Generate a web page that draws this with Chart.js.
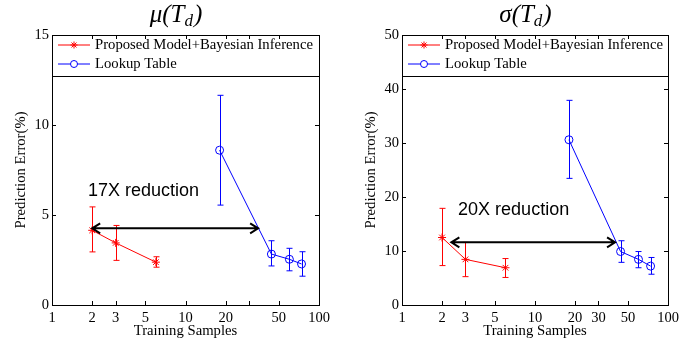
<!DOCTYPE html>
<html>
<head>
<meta charset="utf-8">
<script src="https://cdn.jsdelivr.net/npm/chart.js@4/dist/chart.umd.min.js"></script>
<style>
  body { margin: 0; background: #fff; }
  #wrap { position: relative; width: 699px; height: 345px; }
  .box { position: absolute; top: 0; height: 345px; }
</style>
</head>
<body>
<div id="wrap">
  <div class="box" style="left:0;width:350px"><canvas id="muChart" width="350" height="345"></canvas></div>
  <div class="box" style="left:350px;width:349px"><canvas id="sigmaChart" width="349" height="345"></canvas></div>
</div>
<script>
// x values (training samples)
var proposedSamples = [2, 3, 6];
var lookupSamples = [18, 44, 60, 74];
var xTicks = [1, 2, 3, 5, 10, 20, 30, 50, 100];

// mu(Td) prediction error (%)
var muProposed = [4.15, 3.45, 2.38];
var muProposedLow = [2.95, 2.48, 2.1];
var muProposedHigh = [5.45, 4.42, 2.68];
var muLookup = [8.6, 2.83, 2.54, 2.28];
var muLookupLow = [5.55, 2.17, 1.9, 1.6];
var muLookupHigh = [11.65, 3.57, 3.15, 2.96];
var muArrow = [[2, 4.26], [35, 4.26]];
var muNote = { text: '17X reduction', x: 1.86, y: 6.35 };

// sigma(Td) prediction error (%)
var sigmaProposed = [12.5, 8.45, 6.9];
var sigmaProposedLow = [7.3, 5.25, 5.1];
var sigmaProposedHigh = [17.9, 11.6, 8.6];
var sigmaLookup = [30.6, 9.9, 8.45, 7.2];
var sigmaLookupLow = [23.45, 7.9, 6.9, 5.7];
var sigmaLookupHigh = [37.9, 11.9, 9.9, 8.8];
var sigmaArrow = [[2.35, 11.6], [40, 11.6]];
var sigmaNote = { text: '20X reduction', x: 2.64, y: 17.5 };

var legendLabels = ['Proposed Model+Bayesian Inference', 'Lookup Table'];

Chart.defaults.color = '#000';
Chart.defaults.font.family = '"Liberation Serif", "Times New Roman", serif';

function toPoints(xs, ys) {
	var pts = [];
	for (var i in xs) pts.push({ x: xs[i], y: ys[i] });
	return pts;
}

function drawStar(ctx, x, y, r) {
	ctx.beginPath();
	for (var k = 0; k < 4; k++) {
		var a = k * Math.PI / 4;
		ctx.moveTo(x - r * Math.cos(a), y - r * Math.sin(a));
		ctx.lineTo(x + r * Math.cos(a), y + r * Math.sin(a));
	}
	ctx.stroke();
}

// error bars, frame with inward ticks, arrow, note, legend and title
var decorPlugin = {
	id: 'decor',
	afterDatasetsDraw: function(chart) {
		var ctx = chart.ctx;
		var xs = chart.scales.x, ys = chart.scales.y;
		var a = chart.chartArea;
		var opts = chart.options.plugins.decor;

		// error bars
		chart.data.datasets.forEach(function(ds) {
			ctx.save();
			ctx.strokeStyle = ds.borderColor;
			ctx.lineWidth = 1;
			ds.data.forEach(function(p, i) {
				var px = Math.round(xs.getPixelForValue(p.x)) + 0.5;
				var lo = ys.getPixelForValue(ds.errLow[i]);
				var hi = ys.getPixelForValue(ds.errHigh[i]);
				ctx.beginPath();
				ctx.moveTo(px, lo); ctx.lineTo(px, hi);
				ctx.moveTo(px - 3, lo); ctx.lineTo(px + 3, lo);
				ctx.moveTo(px - 3, hi); ctx.lineTo(px + 3, hi);
				ctx.stroke();
			});
			ctx.restore();
		});

		// arrow
		ctx.save();
		ctx.strokeStyle = '#000';
		ctx.lineWidth = 2;
		var x1 = xs.getPixelForValue(opts.arrow[0][0]), y1 = ys.getPixelForValue(opts.arrow[0][1]);
		var x2 = xs.getPixelForValue(opts.arrow[1][0]), y2 = ys.getPixelForValue(opts.arrow[1][1]);
		ctx.beginPath();
		ctx.moveTo(x1, y1); ctx.lineTo(x2, y2);
		ctx.moveTo(x1 + 8, y1 - 5); ctx.lineTo(x1, y1); ctx.lineTo(x1 + 8, y1 + 5);
		ctx.moveTo(x2 - 8, y2 - 5); ctx.lineTo(x2, y2); ctx.lineTo(x2 - 8, y2 + 5);
		ctx.stroke();
		ctx.fillStyle = '#000';
		ctx.font = '18px "Liberation Sans", Arial, sans-serif';
		ctx.textBaseline = 'middle';
		ctx.textAlign = 'left';
		ctx.fillText(opts.note.text, xs.getPixelForValue(opts.note.x), ys.getPixelForValue(opts.note.y));
		ctx.restore();

		// legend inside the plot
		ctx.save();
		ctx.fillStyle = '#fff';
		ctx.fillRect(a.left, a.top, a.right - a.left, 41);
		ctx.strokeStyle = '#000';
		ctx.lineWidth = 1;
		ctx.strokeRect(Math.round(a.left) + 0.5, Math.round(a.top) + 0.5, Math.round(a.right - a.left), 41);
		chart.data.datasets.forEach(function(ds, i) {
			var ry = a.top + 10 + i * 19;
			ctx.strokeStyle = ds.borderColor;
			ctx.beginPath();
			ctx.moveTo(a.left + 6, ry); ctx.lineTo(a.left + 38, ry);
			ctx.stroke();
			if (ds.pointStyle === 'circle') {
				ctx.fillStyle = '#fff';
				ctx.beginPath();
				ctx.arc(a.left + 22, ry, 3.5, 0, Math.PI * 2);
				ctx.fill(); ctx.stroke();
			} else {
				drawStar(ctx, a.left + 22, ry, 3.5);
			}
			ctx.fillStyle = '#000';
			ctx.font = '14.7px "Liberation Serif", "Times New Roman", serif';
			ctx.textBaseline = 'middle';
			ctx.fillText(ds.label, a.left + 43, ry);
		});
		ctx.restore();

		// frame with inward ticks
		ctx.save();
		ctx.strokeStyle = '#000';
		ctx.lineWidth = 1;
		ctx.strokeRect(Math.round(a.left) + 0.5, Math.round(a.top) + 0.5, Math.round(a.right - a.left), Math.round(a.bottom - a.top));
		ctx.beginPath();
		xs.ticks.forEach(function(t) {
			var px = Math.round(xs.getPixelForValue(t.value)) + 0.5;
			ctx.moveTo(px, a.bottom); ctx.lineTo(px, a.bottom - 4);
			ctx.moveTo(px, a.top); ctx.lineTo(px, a.top + 4);
		});
		ys.ticks.forEach(function(t) {
			var py = Math.round(ys.getPixelForValue(t.value)) + 0.5;
			ctx.moveTo(a.left, py); ctx.lineTo(a.left + 4, py);
			ctx.moveTo(a.right, py); ctx.lineTo(a.right - 4, py);
		});
		ctx.stroke();
		ctx.restore();

		// title with subscript
		ctx.save();
		ctx.fillStyle = '#000';
		ctx.textBaseline = 'alphabetic';
		ctx.textAlign = 'left';
		var big = 'italic 25px "Liberation Serif", "DejaVu Serif", serif';
		var small = 'italic 17px "Liberation Serif", "DejaVu Serif", serif';
		ctx.font = big;
		var w1 = ctx.measureText(opts.title[0]).width;
		var w3 = ctx.measureText(')').width;
		ctx.font = small;
		var w2 = ctx.measureText('d').width;
		var cx = (a.left + a.right) / 2 - 10;
		var sx = cx - (w1 + w2 + w3) / 2;
		var base = 22;
		ctx.font = big;
		ctx.fillText(opts.title[0], sx, base);
		ctx.font = small;
		ctx.fillText('d', sx + w1, base + 4);
		ctx.font = big;
		ctx.fillText(')', sx + w1 + w2 + 1, base);
		ctx.restore();
	}
};

function makeChart(id, prop, propLow, propHigh, look, lookLow, lookHigh, yMax, yStep, arrow, note, titleStart, hide30) {
	var canvas = document.getElementById(id);
	return new Chart(canvas, {
		type: 'line',
		data: {
			datasets: [
				{
					label: legendLabels[0],
					data: toPoints(proposedSamples, prop),
					errLow: propLow,
					errHigh: propHigh,
					borderColor: '#ff0000',
					backgroundColor: '#ff0000',
					borderWidth: 1,
					pointStyle: 'star',
					pointRadius: 4,
					pointBorderWidth: 1
				},
				{
					label: legendLabels[1],
					data: toPoints(lookupSamples, look),
					errLow: lookLow,
					errHigh: lookHigh,
					borderColor: '#0000ff',
					backgroundColor: 'rgba(0,0,0,0)',
					borderWidth: 1,
					pointStyle: 'circle',
					pointRadius: 4,
					pointBorderWidth: 1
				}
			]
		},
		options: {
			responsive: false,
			animation: false,
			layout: { padding: { top: 35, right: 31, left: 0, bottom: 0 } },
			plugins: {
				legend: { display: false },
				tooltip: { enabled: false },
				decor: { arrow: arrow, note: note, title: [titleStart] }
			},
			scales: {
				x: {
					type: 'logarithmic',
					min: 1,
					max: 100,
					afterBuildTicks: function(s) {
						s.ticks = xTicks.map(function(v) { return { value: v }; });
					},
					afterFit: function(s) { s.height = 40; },
					grid: { display: false, drawTicks: false },
					border: { display: false },
					ticks: {
						padding: 4,
						maxRotation: 0,
						autoSkip: false,
						font: { size: 14.5 },
						callback: function(v) { return (hide30 && v === 30) ? '' : String(v); }
					},
					title: {
						display: true,
						text: 'Training Samples',
						font: { size: 14.7 },
						padding: { top: 0, bottom: 5 }
					}
				},
				y: {
					min: 0,
					max: yMax,
					afterFit: function(s) { s.width = 52; },
					grid: { display: false, drawTicks: false },
					border: { display: false },
					ticks: { stepSize: yStep, padding: 3, font: { size: 14.5 } },
					title: {
						display: true,
						text: 'Prediction Error(%)',
						font: { size: 14.7 },
						padding: { top: 12, bottom: 0 }
					}
				}
			}
		},
		plugins: [decorPlugin]
	});
}

makeChart('muChart', muProposed, muProposedLow, muProposedHigh, muLookup, muLookupLow, muLookupHigh, 15, 5, muArrow, muNote, '\u03bc(T', true);
makeChart('sigmaChart', sigmaProposed, sigmaProposedLow, sigmaProposedHigh, sigmaLookup, sigmaLookupLow, sigmaLookupHigh, 50, 10, sigmaArrow, sigmaNote, '\u03c3(T', false);
</script>
</body>
</html>
